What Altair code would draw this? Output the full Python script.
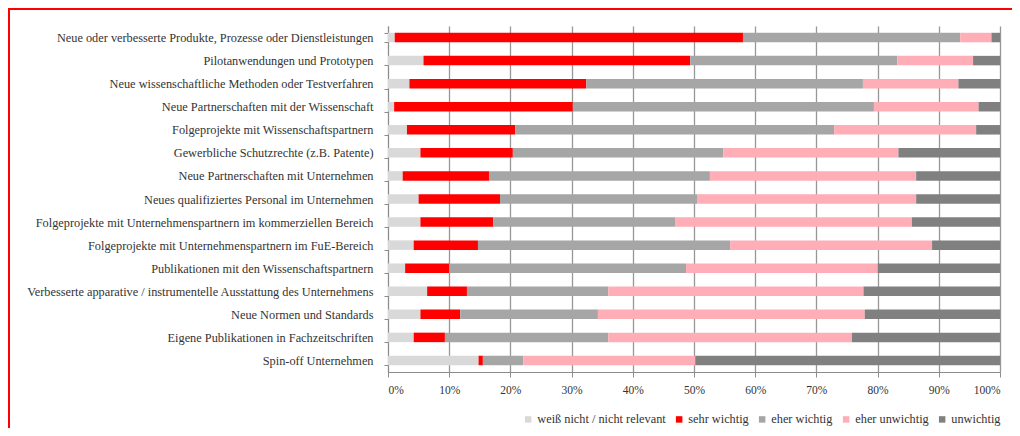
import altair as alt
import pandas as pd

categories = [
    "Neue oder verbesserte Produkte, Prozesse oder Dienstleistungen",
    "Pilotanwendungen und Prototypen",
    "Neue wissenschaftliche Methoden oder Testverfahren",
    "Neue Partnerschaften mit der Wissenschaft",
    "Folgeprojekte mit Wissenschaftspartnern",
    "Gewerbliche Schutzrechte (z.B. Patente)",
    "Neue Partnerschaften mit Unternehmen",
    "Neues qualifiziertes Personal im Unternehmen",
    "Folgeprojekte mit Unternehmenspartnern im kommerziellen Bereich",
    "Folgeprojekte mit Unternehmenspartnern im FuE-Bereich",
    "Publikationen mit den Wissenschaftspartnern",
    "Verbesserte apparative / instrumentelle Ausstattung des Unternehmens",
    "Neue Normen und Standards",
    "Eigene Publikationen in Fachzeitschriften",
    "Spin-off Unternehmen",
]

series_names = ["weiß nicht / nicht relevant", "sehr wichtig", "eher wichtig", "eher unwichtig", "unwichtig"]
series_colors = ["#d9d9d9", "#ff0000", "#a6a6a6", "#ffadb6", "#808080"]

weiss_nicht = [1.1, 5.8, 3.5, 1.0, 3.1, 5.3, 2.4, 5.0, 5.3, 4.2, 2.8, 6.4, 5.3, 4.2, 14.8]
sehr_wichtig = [56.9, 43.6, 28.9, 29.2, 17.7, 15.1, 14.1, 13.3, 11.9, 10.5, 7.2, 6.5, 6.5, 5.1, 0.7]
eher_wichtig = [35.5, 33.8, 45.2, 49.2, 52.1, 34.4, 36.1, 32.2, 29.7, 41.2, 38.7, 23.1, 22.5, 26.7, 6.6]
eher_unwichtig = [5.1, 12.4, 15.6, 17.1, 23.2, 28.6, 33.7, 35.8, 38.7, 33.0, 31.3, 41.7, 43.6, 39.8, 28.1]
unwichtig = [1.4, 4.4, 6.8, 3.5, 3.9, 16.6, 13.7, 13.7, 14.4, 11.1, 20.0, 22.3, 22.1, 24.2, 49.8]

x_ticks = [0, 10, 20, 30, 40, 50, 60, 70, 80, 90, 100]

series_values = [weiss_nicht, sehr_wichtig, eher_wichtig, eher_unwichtig, unwichtig]
rows = []
for si, (name, vals) in enumerate(zip(series_names, series_values)):
    for cat, v in zip(categories, vals):
        rows.append({"Kategorie": cat, "Antwort": name, "Wert": v, "Reihenfolge": si})
df = pd.DataFrame(rows)

FONT = "Liberation Serif"

bars = alt.Chart(df).mark_bar(size=9.5).encode(
    y=alt.Y(
        "Kategorie:N",
        sort=categories,
        title=None,
        scale=alt.Scale(paddingInner=0.58, paddingOuter=0.29),
        axis=alt.Axis(
            tickBand="extent",
            domainColor="#8c8c8c",
            tickColor="#8c8c8c",
            tickSize=4,
            labelPadding=11,
            labelFont=FONT,
            labelFontSize=12.3,
            labelColor="#333333",
            labelLimit=400,
        ),
    ),
    x=alt.X(
        "Wert:Q",
        stack="zero",
        title=None,
        scale=alt.Scale(domain=[0, 100], nice=False),
        axis=alt.Axis(
            values=x_ticks,
            labelExpr="datum.value + '%'",
            grid=True,
            gridColor="#979797",
            gridWidth=1.3,
            domainColor="#8c8c8c",
            tickColor="#8c8c8c",
            tickSize=5,
            labelPadding=7,
            labelFont=FONT,
            labelFontSize=11.5,
            labelColor="#333333",
        ),
    ),
    color=alt.Color(
        "Antwort:N",
        sort=series_names,
        scale=alt.Scale(domain=series_names, range=series_colors),
        legend=alt.Legend(
            title=None,
            orient="none",
            direction="horizontal",
            legendX=134,
            legendY=387,
            symbolType="square",
            symbolSize=42,
            symbolStrokeWidth=0,
            labelOffset=3,
            columnPadding=7,
            labelFont=FONT,
            labelFontSize=12.3,
            labelColor="#333333",
            labelLimit=300,
        ),
    ),
    order=alt.Order("Reihenfolge:Q", sort="ascending"),
)

frame_src = pd.DataFrame({"a": [0]})
top_line = alt.Chart(frame_src).mark_rule(color="#ff0000", strokeWidth=2).encode(
    x=alt.value(-380), x2=alt.value(630), y=alt.value(-17)
)
left_line = alt.Chart(frame_src).mark_rule(color="#ff0000", strokeWidth=2).encode(
    x=alt.value(-379), y=alt.value(-18), y2=alt.value(410)
)

chart = alt.layer(bars, top_line, left_line).properties(
    width=612,
    height=346,
    autosize=alt.AutoSizeParams(type="none"),
    padding={"left": 380, "top": 18, "right": 12, "bottom": 56},
).configure_view(stroke=None)

chart.save("out.html", embed_options={"renderer": "svg", "actions": False})
